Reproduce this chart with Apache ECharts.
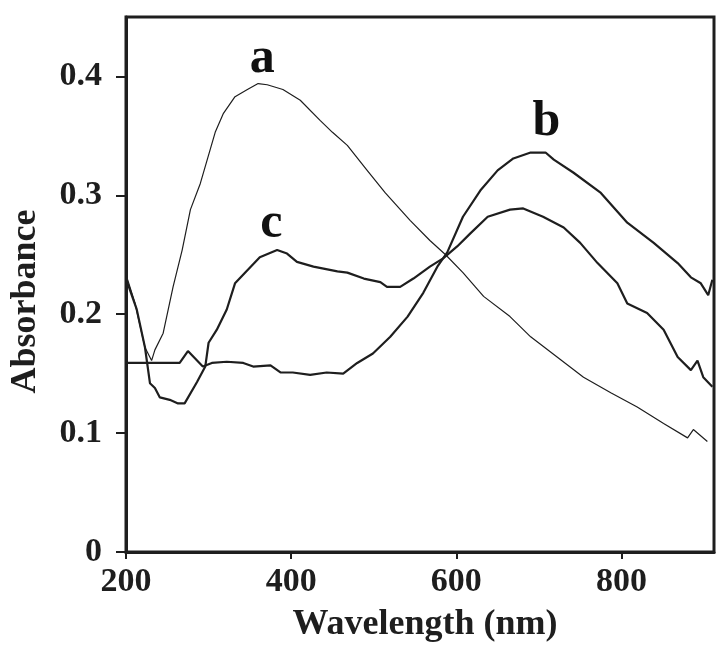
<!DOCTYPE html>
<html>
<head>
<meta charset="utf-8">
<script src="https://cdn.jsdelivr.net/npm/echarts@6/dist/echarts.min.js"></script>
<style>
html,body{margin:0;padding:0;background:#fff;}
#chart{width:726px;height:657px;}
</style>
</head>
<body>
<div id="chart"></div>
<script>
// Curve a (thin)
var aWave = [202,211,223,231,235,245,257,268,278,290,308,318,332,347,360,371,390,411,435,450,468,492,514,544,568,587,608,633,665,690,722,754,787,819,851,880,887,904];
var aAbs  = [0.229,0.209,0.172,0.161,0.170,0.184,0.223,0.254,0.288,0.310,0.353,0.369,0.383,0.389,0.394,0.393,0.389,0.380,0.363,0.353,0.342,0.321,0.302,0.279,0.262,0.250,0.235,0.215,0.198,0.181,0.164,0.147,0.134,0.122,0.108,0.096,0.103,0.093];
// Curve b
var bWave = [200,215,230,245,265,275,293,304,322,342,354,375,387,402,423,443,463,480,499,520,541,560,577,589,608,629,650,669,690,708,718,742,775,807,839,868,884,896,905,910];
var bAbs  = [0.159,0.159,0.159,0.159,0.159,0.169,0.156,0.159,0.160,0.159,0.156,0.157,0.151,0.151,0.149,0.151,0.150,0.159,0.167,0.181,0.198,0.218,0.240,0.252,0.282,0.304,0.321,0.331,0.336,0.336,0.330,0.319,0.302,0.277,0.260,0.243,0.231,0.226,0.216,0.229];
// Curve c
var cWave = [202,213,223,229,235,241,253,263,271,286,296,300,310,322,332,347,362,383,395,407,427,456,468,488,508,516,532,548,568,584,601,617,638,665,681,705,730,750,771,795,807,831,851,868,884,892,899,910];
var cAbs  = [0.226,0.204,0.172,0.142,0.138,0.130,0.128,0.125,0.125,0.143,0.156,0.176,0.187,0.204,0.226,0.237,0.248,0.254,0.251,0.244,0.240,0.236,0.235,0.230,0.227,0.223,0.223,0.230,0.240,0.247,0.257,0.268,0.282,0.288,0.289,0.282,0.273,0.260,0.243,0.226,0.209,0.201,0.187,0.164,0.153,0.161,0.147,0.139];
// Curve letter labels
var labelNames = ['a','b','c'];
var labelWave  = [365,709,376];
var labelAbs   = [0.415,0.362,0.276];
// Tick labels
var xTicks = [200,400,600,800];
var yTicks = [0,0.1,0.2,0.3,0.4];

function pairs(xs, ys){ return xs.map(function(x,i){ return [x, ys[i]]; }); }

var ink = '#1e1e1e';
var serif = 'Liberation Serif';
var chart = echarts.init(document.getElementById('chart'));
chart.setOption({
  animation:false,
  backgroundColor:'#fff',
  grid:{left:126,right:12,top:17,bottom:105,show:true,borderColor:ink,borderWidth:3,backgroundColor:'transparent'},
  xAxis:{
    type:'value',min:200,max:912,interval:200,
    name:'Wavelength (nm)',nameLocation:'middle',nameGap:55,
    nameTextStyle:{fontFamily:serif,fontWeight:'bold',fontSize:36,color:ink,padding:[0,0,0,10]},
    axisLine:{show:true,lineStyle:{color:ink,width:3}},
    axisTick:{show:true,inside:false,length:7,lineStyle:{color:ink,width:2},customValues:xTicks},
    axisLabel:{fontFamily:serif,fontWeight:'bold',fontSize:34,color:ink,margin:13,customValues:xTicks},
    splitLine:{show:false}
  },
  yAxis:{
    type:'value',min:0,max:0.45,interval:0.1,
    name:'Absorbance',nameLocation:'middle',nameGap:82,
    nameTextStyle:{fontFamily:serif,fontWeight:'bold',fontSize:36,color:ink,padding:[0,34,0,0]},
    axisLine:{show:true,lineStyle:{color:ink,width:3}},
    axisTick:{show:true,inside:false,length:10,lineStyle:{color:ink,width:2},customValues:yTicks},
    axisLabel:{fontFamily:serif,fontWeight:'bold',fontSize:34,color:ink,margin:24,customValues:yTicks,
      formatter:function(v){ return v===0 ? '0' : v.toFixed(1); }},
    splitLine:{show:false}
  },
  series:[
    {name:'a',type:'line',data:pairs(aWave,aAbs),symbol:'none',lineStyle:{color:ink,width:1.2}},
    {name:'b',type:'line',data:pairs(bWave,bAbs),symbol:'none',lineStyle:{color:ink,width:2.2}},
    {name:'c',type:'line',data:pairs(cWave,cAbs),symbol:'none',lineStyle:{color:ink,width:2.2}},
    {name:'labels',type:'scatter',symbolSize:0,silent:true,itemStyle:{opacity:1,color:ink},
      data:labelNames.map(function(n,i){ return {name:n,value:[labelWave[i],labelAbs[i]]}; }),
      label:{show:true,position:'inside',formatter:'{b}',fontFamily:serif,fontWeight:'bold',fontSize:50,color:'#111',opacity:1}}
  ]
});
</script>
</body>
</html>
